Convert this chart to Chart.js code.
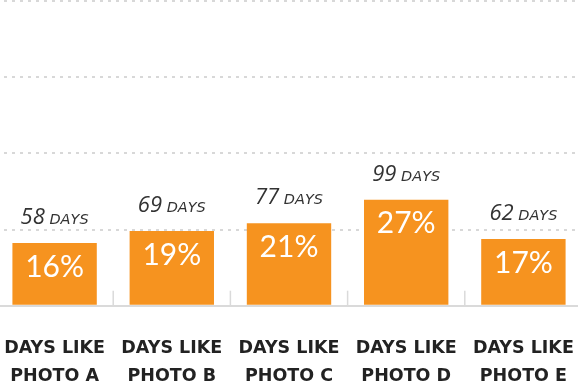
<!DOCTYPE html>
<html>
<head>
<meta charset="utf-8">
<script src="https://cdn.jsdelivr.net/npm/chart.js@4"></script>
<style>
  html, body { margin: 0; padding: 0; background: #fff; overflow: hidden; width: 578px; height: 390px; }
  #wrap { position: absolute; left: -4px; top: 0; width: 586px; height: 390px; }
</style>
</head>
<body>
<div id="wrap"><canvas id="c"></canvas></div>
<script>
// Category labels (two lines each)
const categories = [
  ['DAYS LIKE', 'PHOTO A'],
  ['DAYS LIKE', 'PHOTO B'],
  ['DAYS LIKE', 'PHOTO C'],
  ['DAYS LIKE', 'PHOTO D'],
  ['DAYS LIKE', 'PHOTO E']
];
// Share of days (%) shown inside each bar
const shares = [16, 19, 21, 27, 17];
// Day counts shown above each bar
const dayCounts = [58, 69, 77, 99, 62];
// Value-axis range and dotted guide positions
const axisMax = 77.6;
const guideValues = [0, 19.4, 38.8, 58.2, 77.6];

const BAR_COLOR = '#f6931f';
const AXIS_GREY = '#dadada';

// Short separator marks standing up from the baseline between categories
const categorySeparators = {
  id: 'categorySeparators',
  beforeDatasetsDraw(chart) {
    const x = chart.scales.x;
    const area = chart.chartArea;
    const n = chart.data.labels.length;
    const half = (x.getPixelForValue(1) - x.getPixelForValue(0)) / 2;
    const ctx = chart.ctx;
    ctx.save();
    ctx.strokeStyle = AXIS_GREY;
    ctx.lineWidth = 1.5;
    for (let i = 0; i <= n; i++) {
      const px = x.getPixelForValue(i) - half;
      ctx.beginPath();
      ctx.moveTo(px, area.bottom);
      ctx.lineTo(px, area.bottom - 15);
      ctx.stroke();
    }
    ctx.restore();
  }
};

const NUM_FONT = 'italic 22px "Open Sans"';
const UNIT_FONT = 'oblique 14.5px "DejaVu Sans"';

const barLabels = {
  id: 'barLabels',
  afterDatasetsDraw(chart) {
    const ctx = chart.ctx;
    const meta = chart.getDatasetMeta(0);
    ctx.save();
    meta.data.forEach((bar, i) => {
      // percentage inside the bar
      ctx.fillStyle = '#ffffff';
      ctx.font = '400 30px Lato';
      ctx.textAlign = 'center';
      ctx.textBaseline = 'middle';
      ctx.fillText(shares[i] + '%', bar.x, bar.y + 24);

      // "NN DAYS" above the bar
      const num = String(dayCounts[i]);
      const unit = ' DAYS';
      ctx.font = NUM_FONT;
      const w1 = ctx.measureText(num).width;
      ctx.font = UNIT_FONT;
      const w2 = ctx.measureText(unit).width;
      const x0 = bar.x - (w1 + w2) / 2;
      const base = bar.y - 19;
      ctx.fillStyle = '#333333';
      ctx.textAlign = 'left';
      ctx.textBaseline = 'alphabetic';
      ctx.font = NUM_FONT;
      ctx.fillText(num, x0, base);
      ctx.font = UNIT_FONT;
      ctx.fillText(unit, x0 + w1, base);
    });
    ctx.restore();
  }
};

new Chart(document.getElementById('c'), {
  type: 'bar',
  data: {
    labels: categories,
    datasets: [{
      data: shares,
      backgroundColor: BAR_COLOR,
      borderWidth: 0,
      categoryPercentage: 1,
      barPercentage: 0.72
    }]
  },
  options: {
    responsive: true,
    maintainAspectRatio: false,
    animation: false,
    layout: { padding: { top: 1, bottom: 0, left: 0, right: 0 } },
    plugins: { legend: { display: false }, tooltip: { enabled: false } },
    scales: {
      x: {
        grid: {
          display: true,
          offset: true,
          drawOnChartArea: false,
          drawTicks: true,
          tickLength: 29,
          tickColor: 'rgba(0,0,0,0)'
        },
        border: { display: true, color: AXIS_GREY, width: 2 },
        ticks: {
          autoSkip: false,
          maxRotation: 0,
          padding: 0,
          color: '#222222',
          font: { family: '"DejaVu Sans"', size: 17.5, weight: 'bold', lineHeight: 1.58 }
        }
      },
      y: {
        min: 0,
        max: axisMax,
        afterBuildTicks(scale) {
          scale.ticks = guideValues.map(v => ({ value: v }));
        },
        ticks: { display: false },
        grid: {
          drawTicks: false,
          lineWidth: 2,
          color: c => (c.tick && c.tick.value === 0) ? 'rgba(0,0,0,0)' : '#d8d8d8'
        },
        border: { display: false, dash: [3, 5] }
      }
    }
  },
  plugins: [categorySeparators, barLabels]
});
</script>
</body>
</html>
